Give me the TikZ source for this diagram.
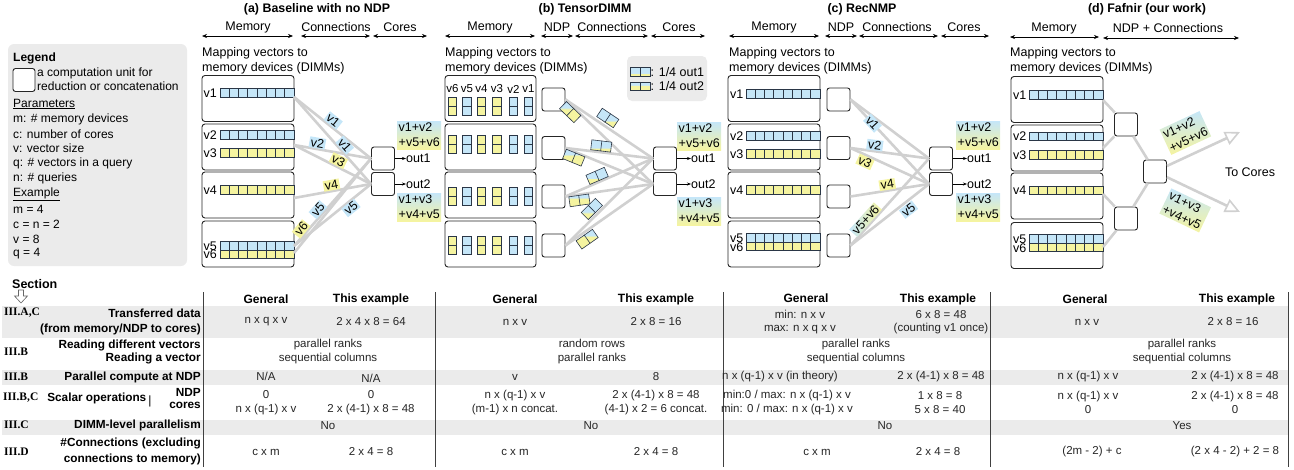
\documentclass[tikz,border=0pt]{standalone}
\usepackage{fontspec}
\setmainfont{Liberation Sans}
\newfontfamily\tnrfont{Liberation Serif}
\usetikzlibrary{arrows.meta,calc}
\definecolor{cblue}{HTML}{C5E6F8}
\definecolor{cyel}{HTML}{F5F4A0}
\definecolor{cline}{HTML}{D0D0D0}
\definecolor{cband}{HTML}{EBEBEB}
\definecolor{cedge}{HTML}{2A3646}
\pgfdeclareverticalshading{splitA}{100bp}{color(0bp)=(cyel); color(41bp)=(cyel); color(42bp)=(cblue); color(100bp)=(cblue)}
\pgfdeclareverticalshading{splitB}{100bp}{color(0bp)=(cyel); color(58bp)=(cyel); color(59bp)=(cblue); color(100bp)=(cblue)}
\newcommand{\vrow}[3]{\foreach \i in {0,...,7}{\draw[cellst, fill=#3] ({#1+\i*9.25},{#2-4.25}) rectangle ++(9.25,8.5);}}
\newcommand{\vpair}[3]{\draw[cellst, fill=#3] ({#1-4.25},{#2-9}) rectangle ++(8.5,9);\draw[cellst, fill=#3] ({#1-4.25},{#2}) rectangle ++(8.5,9);}
\tikzset{
  lbl/.style={inner sep=0pt, font=\fontsize{12.5}{15}\selectfont},
  ttl/.style={inner sep=0pt, font=\bfseries\fontsize{12.4}{15}\selectfont},
  lgd/.style={inner sep=0pt, anchor=west, font=\fontsize{12}{14}\selectfont},
  dimm/.style={draw=black!85, fill=white, rounded corners=3pt, line width=0.9pt, minimum width=92pt, minimum height=46pt, inner sep=0pt},
  unit/.style={draw=black!85, fill=white, rounded corners=2.5pt, line width=0.9pt, minimum width=23pt, minimum height=23pt, inner sep=0pt},
  cellst/.style={draw=cedge, line width=0.6pt},
  conn/.style={draw=cline, line width=2.6pt},
  span/.style={{Stealth[length=5pt,width=4pt]}-{Stealth[length=5pt,width=4pt]}, line width=0.6pt},
  outarr/.style={-{Stealth[length=4pt,width=3pt]}, line width=0.6pt},
  tagb/.style={fill=cblue, inner xsep=1.5pt, inner ysep=1pt, font=\fontsize{12.5}{14}\selectfont},
  tagy/.style={fill=cyel, inner xsep=1.5pt, inner ysep=1pt, font=\fontsize{12.5}{14}\selectfont},
  tagg/.style={left color=cblue, right color=cyel, inner xsep=1.5pt, inner ysep=1pt, font=\fontsize{12.5}{14}\selectfont},
  sumlbl/.style={top color=cblue, bottom color=cyel, inner xsep=1.5pt, inner ysep=2pt, align=left, font=\fontsize{12.5}{15}\selectfont},
  ptag/.style={draw=cedge, line width=0.6pt, minimum width=20pt, minimum height=10pt, inner sep=0pt, shade, shading=#1,
    append after command={(\tikzlastnode.north) edge[cellst] (\tikzlastnode.south)}},
  bigarr/.style={draw=cline, line width=2.6pt, -{Triangle[open, length=15pt, width=14pt, line width=1.6pt]}},
  hd/.style={inner sep=0pt, font=\bfseries\fontsize{12}{14}\selectfont},
  td/.style={inner sep=0pt, align=center, text=black!85, font=\fontsize{11.5}{13.5}\selectfont},
  rl/.style={inner sep=0pt, anchor=east, font=\bfseries\fontsize{11.8}{14}\selectfont},
  sec/.style={inner sep=0pt, anchor=west, font=\tnrfont\bfseries\fontsize{11.5}{13}\selectfont},
  vline/.style={draw=black!75, line width=0.8pt},
}
\begin{document}
\begin{tikzpicture}[x=1pt,y=-1pt]
\useasboundingbox (0,0) rectangle (1294,469);

%%%%%%%% Legend
\fill[cband, rounded corners=6pt] (8,44) rectangle (187,266);
\node[lgd, font=\bfseries\fontsize{12}{14}\selectfont] (lgT) at (13,58) {Legend};
\node[unit, minimum width=22pt, minimum height=23pt] (lgU) at (24,80) {};
\node[lgd, align=left] (lgU1) at (37,79) {a computation unit for\\reduction or concatenation};
\node[lgd] (lgP) at (13,104) {\underline{Parameters}};
\node[lgd] (lg1) at (13,119) {m: \# memory devices};
\node[lgd] (lg2) at (13,134) {c: number of cores};
\node[lgd] (lg3) at (13,148.5) {v: vector size};
\node[lgd] (lg4) at (13,163) {q: \# vectors in a query};
\node[lgd] (lg5) at (13,178) {n: \# queries};
\node[lgd] (lgE) at (13,194) {\underline{Example}};
\node[lgd] (lg6) at (13,209) {m = 4};
\node[lgd] (lg7) at (13,224) {c = n = 2};
\node[lgd] (lg8) at (13,239) {v = 8};
\node[lgd] (lg9) at (13,254) {q = 4};

%%%%%%%% Panel (a)
\node[ttl] (aT) at (317,9) {(a) Baseline with no NDP};
\node[lbl] (aH1) at (248,27.5) {Memory};
\node[lbl] (aH2) at (336,27.5) {Connections};
\node[lbl] (aH3) at (400,27.5) {Cores};
\draw[span] (202,36) -- (293,36);
\draw[span] (301,36) -- (370,36);
\draw[span] (373,36) -- (427,36);
\node[lbl, anchor=west, align=left] (aM) at (202,60.5) {Mapping vectors to\\memory devices (DIMMs)};
\node[dimm] (aD1) at (248,98.5) {};
\node[dimm] (aD2) at (248,147) {};
\node[dimm] (aD3) at (248,195) {};
\node[dimm] (aD4) at (248,244) {};
\vrow{220}{93}{cblue}
\vrow{220}{135}{cblue}
\vrow{220}{153}{cyel}
\vrow{220}{190}{cyel}
\vrow{220}{246}{cblue}
\vrow{220}{254.5}{cyel}
\node[lbl, anchor=west] (av1) at (203.5,93) {v1};
\node[lbl, anchor=west] (av2) at (203.5,135) {v2};
\node[lbl, anchor=west] (av3) at (203.5,153) {v3};
\node[lbl, anchor=west] (av4) at (203.5,190) {v4};
\node[lbl, anchor=west] (av5) at (203.5,246) {v5};
\node[lbl, anchor=west] (av6) at (203.5,254.5) {v6};
\node[unit] (ac1) at (383,158.5) {};
\node[unit] (ac2) at (383,184) {};
\coordinate (ap1) at (294,97);
\coordinate (ap2) at (294,145);
\coordinate (ap3) at (294,198);
\coordinate (ap4) at (294,246);
\coordinate (ap5) at (294,253);
\draw[conn] (ap1) -- (ac1.west);
\draw[conn] (ap1) -- (ac2.west);
\draw[conn] (ap2) -- (ac1.west);
\draw[conn] (ap2) -- (ac2.west);
\draw[conn] (ap3) -- (ac2.west);
\draw[conn] (ap4) -- (ac2.west);
\draw[conn] (ap4) -- (ac1.west);
\draw[conn] (ap5) -- (ac1.west);
\path (ap1) -- node[tagb, sloped, above=0.5pt, pos=.46] (atg1) {v1} (ac1.west);
\path (ap1) -- node[tagb, sloped, above=0.5pt, pos=.6] (atg2) {v1} (ac2.west);
\path (ap2) -- node[tagb, sloped, above=0.5pt, pos=.29] (atg3) {v2} (ac1.west);
\path (ap2) -- node[tagy, sloped, above=0.5pt, pos=.54] (atg4) {v3} (ac2.west);
\path (ap3) -- node[tagy, sloped, above=0.5pt, pos=.5] (atg5) {v4} (ac2.west);
\path (ap4) -- node[tagb, sloped, below=0.5pt, pos=.69] (atg6) {v5} (ac2.west);
\path (ap4) -- node[tagb, sloped, above=0.5pt, pos=.37] (atg7) {v5} (ac1.west);
\path (ap5) -- node[tagy, sloped, above=4pt, pos=.19] (atg8) {v6} (ac1.west);
\node[lbl, anchor=west] (ao1) at (406,158.5) {out1};
\node[lbl, anchor=west] (ao2) at (406,184) {out2};
\draw[outarr] (ac1.east) -- (ao1.west);
\draw[outarr] (ac2.east) -- (ao2.west);
\node[sumlbl, anchor=north west] (aS1) at (397,121) {v1+v2\\+v5+v6};
\node[sumlbl, anchor=north west] (aS2) at (397,193) {v1+v3\\+v4+v5};

%%%%%%%% Panel (b)
\node[ttl] (bT) at (585,9) {(b) TensorDIMM};
\node[lbl] (bH1) at (490,27.5) {Memory};
\node[lbl] (bH2) at (557,27.5) {NDP};
\node[lbl] (bH3) at (612,27.5) {Connections};
\node[lbl] (bH4) at (679,27.5) {Cores};
\draw[span] (445,36) -- (535,36);
\draw[span] (541,36) -- (573,36);
\draw[span] (575,36) -- (648,36);
\draw[span] (651,36) -- (705,36);
\node[lbl, anchor=west, align=left] (bM) at (445,60.5) {Mapping vectors to\\memory devices (DIMMs)};
\node[dimm, minimum width=91pt] (bD1) at (490.5,98.5) {};
\node[dimm, minimum width=91pt] (bD2) at (490.5,147) {};
\node[dimm, minimum width=91pt] (bD3) at (490.5,195) {};
\node[dimm, minimum width=91pt] (bD4) at (490.5,244) {};
\foreach \x/\c in {452.5/cyel,467/cblue,481.5/cyel,497/cyel,513.5/cblue,528.5/cblue}{\foreach \y in {106,144,196,245}{\vpair{\x}{\y}{\c}}}
\node[lbl, font=\fontsize{11.5}{13}\selectfont] (bl6) at (452.5,89) {v6};
\node[lbl, font=\fontsize{11.5}{13}\selectfont] (bl5) at (467,89) {v5};
\node[lbl, font=\fontsize{11.5}{13}\selectfont] (bl4) at (481.5,89) {v4};
\node[lbl, font=\fontsize{11.5}{13}\selectfont] (bl3) at (497,89) {v3};
\node[lbl, font=\fontsize{11.5}{13}\selectfont] (bl2) at (513.5,89) {v2};
\node[lbl, font=\fontsize{11.5}{13}\selectfont] (bl1) at (528.5,89) {v1};
\node[unit] (bN1) at (553.5,99.5) {};
\node[unit] (bN2) at (553.5,148) {};
\node[unit] (bN3) at (553.5,196.5) {};
\node[unit] (bN4) at (553.5,245.5) {};
\node[unit] (bC1) at (665,158.5) {};
\node[unit] (bC2) at (665,184) {};
\foreach \i in {1,...,4}{\foreach \j in {1,2}{\draw[conn] (bN\i.east) -- (bC\j.west);}}
\path (bN1.east) -- node[ptag=splitB, sloped, below=0.5pt, pos=.1] (btg1) {} (bC2.west);
\path (bN1.east) -- node[ptag=splitA, sloped, above=3pt, pos=.43] (btg2) {} (bC1.west);
\path (bN2.east) -- node[ptag=splitA, sloped, above=1pt, pos=.4] (btg3) {} (bC1.west);
\path (bN2.east) -- node[ptag=splitB, sloped, below=0.5pt, pos=.12] (btg4) {} (bC2.west);
\path (bN3.east) -- node[ptag=splitA, sloped, above=1pt, pos=.39] (btg5) {} (bC1.west);
\path (bN3.east) -- node[ptag=splitB, sloped, below=0.5pt, pos=.15] (btg6) {} (bC2.west);
\path (bN4.east) -- node[ptag=splitA, sloped, above=2pt, pos=.36] (btg7) {} (bC1.west);
\path (bN4.east) -- node[ptag=splitB, sloped, below=2pt, pos=.2] (btg8) {} (bC2.west);
\fill[cband, rounded corners=5pt] (627,56) rectangle (707,101);
\node[ptag=splitA, minimum width=20pt, minimum height=8.5pt] (bk1) at (640,72) {};
\node[ptag=splitB, minimum width=20pt, minimum height=8.5pt] (bk2) at (640,86.5) {};
\node[lbl, anchor=west] (bk1t) at (650.5,72) {: 1/4 out1};
\node[lbl, anchor=west] (bk2t) at (650.5,86.5) {: 1/4 out2};
\node[lbl, anchor=west] (bo1) at (691,158.5) {out1};
\node[lbl, anchor=west] (bo2) at (691,184) {out2};
\draw[outarr] (bC1.east) -- (bo1.west);
\draw[outarr] (bC2.east) -- (bo2.west);
\node[sumlbl, anchor=north west] (bS1) at (677,122) {v1+v2\\+v5+v6};
\node[sumlbl, anchor=north west] (bS2) at (677,197) {v1+v3\\+v4+v5};

%%%%%%%% Panel (c)
\node[ttl] (cT) at (862,9) {(c) RecNMP};
\node[lbl] (cH1) at (774,27.5) {Memory};
\node[lbl] (cH2) at (841,27.5) {NDP};
\node[lbl] (cH3) at (897,27.5) {Connections};
\node[lbl] (cH4) at (964,27.5) {Cores};
\draw[span] (729,36) -- (819,36);
\draw[span] (825,36) -- (857,36);
\draw[span] (859,36) -- (938,36);
\draw[span] (941,36) -- (989,36);
\node[lbl, anchor=west, align=left] (cM) at (729,60.5) {Mapping vectors to\\memory devices (DIMMs)};
\node[dimm] (cD1) at (774,98.5) {};
\node[dimm] (cD2) at (774,147) {};
\node[dimm] (cD3) at (774,195) {};
\node[dimm] (cD4) at (774,244) {};
\vrow{746}{94}{cblue}
\vrow{746}{136}{cblue}
\vrow{746}{154}{cyel}
\vrow{746}{190}{cyel}
\vrow{746}{238}{cblue}
\vrow{746}{246.5}{cyel}
\node[lbl, anchor=west] (cv1) at (730,94) {v1};
\node[lbl, anchor=west] (cv2) at (730,136) {v2};
\node[lbl, anchor=west] (cv3) at (730,154) {v3};
\node[lbl, anchor=west] (cv4) at (730,190) {v4};
\node[lbl, anchor=west] (cv5) at (730,238) {v5};
\node[lbl, anchor=west] (cv6) at (730,247) {v6};
\node[unit] (cN1) at (838.5,99.5) {};
\node[unit] (cN2) at (838.5,148) {};
\node[unit] (cN3) at (838.5,196.5) {};
\node[unit] (cN4) at (838.5,245.5) {};
\node[unit] (cC1) at (941,158.5) {};
\node[unit] (cC2) at (941,184) {};
\draw[conn] (cN1.east) -- (cC1.west);
\draw[conn] (cN1.east) -- (cC2.west);
\draw[conn] (cN2.east) -- (cC1.west);
\draw[conn] (cN2.east) -- (cC2.west);
\draw[conn] (cN3.east) -- (cC2.west);
\draw[conn] (cN4.east) -- (cC1.west);
\draw[conn] (cN4.east) -- (cC2.west);
\path (cN1.east) -- node[tagb, sloped, pos=.28] (ctg1) {v1} (cC2.west);
\path (cN2.east) -- node[tagb, sloped, above=0.5pt, pos=.3] (ctg2) {v2} (cC1.west);
\path (cN2.east) -- node[tagy, sloped, below=1pt, pos=.22] (ctg3) {v3} (cC2.west);
\path (cN3.east) -- node[tagy, sloped, above=0.5pt, pos=.48] (ctg4) {v4} (cC2.west);
\path (cN4.east) -- node[tagg, sloped, above=0.5pt, pos=.25] (ctg5) {v5+v6} (cC1.west);
\path (cN4.east) -- node[tagb, sloped, below=2pt, pos=.68] (ctg6) {v5} (cC2.west);
\node[lbl, anchor=west] (co1) at (967,158.5) {out1};
\node[lbl, anchor=west] (co2) at (967,184) {out2};
\draw[outarr] (cC1.east) -- (co1.west);
\draw[outarr] (cC2.east) -- (co2.west);
\node[sumlbl, anchor=north west] (cS1) at (956,121) {v1+v2\\+v5+v6};
\node[sumlbl, anchor=north west] (cS2) at (956,193) {v1+v3\\+v4+v5};

%%%%%%%% Panel (d)
\node[ttl] (dT) at (1147,9) {(d) Fafnir (our work)};
\node[lbl] (dH1) at (1054,28.5) {Memory};
\node[lbl] (dH2) at (1168,28.5) {NDP + Connections};
\draw[span] (1010,37) -- (1099,37);
\draw[span] (1103,38) -- (1239,38);
\node[lbl, anchor=west, align=left] (dM) at (1010,61) {Mapping vectors to\\memory devices (DIMMs)};
\node[dimm] (dD1) at (1057,99.5) {};
\node[dimm] (dD2) at (1057,148) {};
\node[dimm] (dD3) at (1057,196) {};
\node[dimm] (dD4) at (1057,245.5) {};
\vrow{1029}{95}{cblue}
\vrow{1029}{136.5}{cblue}
\vrow{1029}{155}{cyel}
\vrow{1029}{190.5}{cyel}
\vrow{1029}{239}{cblue}
\vrow{1029}{247.5}{cyel}
\node[lbl, anchor=west] (dv1) at (1013,95) {v1};
\node[lbl, anchor=west] (dv2) at (1013,136.5) {v2};
\node[lbl, anchor=west] (dv3) at (1013,155) {v3};
\node[lbl, anchor=west] (dv4) at (1013,190.5) {v4};
\node[lbl, anchor=west] (dv5) at (1013,239) {v5};
\node[lbl, anchor=west] (dv6) at (1013,248) {v6};
\node[unit] (dA) at (1126,124.5) {};
\node[unit] (dB) at (1155,171.5) {};
\node[unit] (dC) at (1126,218.5) {};
\coordinate (dp1) at (1103,100);
\coordinate (dp2) at (1103,148);
\coordinate (dp3) at (1103,194);
\coordinate (dp4) at (1103,247);
\coordinate (dt1) at (1240,132);
\coordinate (dt2) at (1240,212);
\draw[conn] (dp1) -- (dA);
\draw[conn] (dp2) -- (dA);
\draw[conn] (dp3) -- (dC);
\draw[conn] (dp4) -- (dC);
\draw[conn] (dA) -- (dB);
\draw[conn] (dC) -- (dB);
\draw[bigarr] (dB) -- (dt1);
\draw[bigarr] (dB) -- (dt2);
\path (dB) -- node[sumlbl, sloped, above=8pt, pos=.38] (dS1) {v1+v2\\+v5+v6} (dt1);
\path (dB) -- node[sumlbl, sloped, below=8pt, pos=.38] (dS2) {v1+v3\\+v4+v5} (dt2);
\node[lbl] (dTC) at (1250,172) {To Cores};

%%%%%%%% Table
\fill[cband] (2,306) rectangle (1288,338);
\fill[cband] (2,370) rectangle (1288,385);
\fill[cband] (2,420) rectangle (1288,435);
\draw[vline] (203,292) -- (203,467);
\draw[vline] (435,292) -- (435,467);
\draw[vline] (723,292) -- (723,467);
\draw[vline] (990,292) -- (990,467);
\draw[vline] (1288,292) -- (1288,467);
\node[inner sep=0pt, anchor=west, font=\bfseries\fontsize{12.5}{14}\selectfont] (tSec) at (12,284) {Section};
\draw[black!60, line width=0.6pt, fill=white] (18.5,290) -- (23.5,290) -- (23.5,296) -- (27.5,296) -- (21,303) -- (14.5,296) -- (18.5,296) -- cycle;
% row labels
\node[sec] (rs1) at (4,313) {III.A,C};
\node[rl] (rl1a) at (201,313) {Transferred data};
\node[rl] (rl1b) at (201,329) {(from memory/NDP to cores)};
\node[sec] (rs2) at (4,352) {III.B};
\node[rl] (rl2a) at (201,345) {Reading different vectors};
\node[rl] (rl2b) at (201,358) {Reading a vector};
\node[sec] (rs3) at (4,377) {III.B};
\node[rl] (rl3) at (201,377) {Parallel compute at NDP};
\node[sec] (rs4) at (3,398) {III.B,C};
\node[rl] (rl4) at (146.5,398) {Scalar operations};
\node[inner sep=0pt, font=\fontsize{12}{14}\selectfont] (rl4bar) at (150,401) {|};
\node[rl] (rl4a) at (201,392.5) {NDP};
\node[rl] (rl4b) at (201,405.5) {cores};
\node[sec] (rs5) at (4,425) {III.C};
\node[rl] (rl5) at (201,425) {DIMM-level parallelism};
\node[sec] (rs6) at (4,452) {III.D};
\node[rl] (rl6a) at (201,443) {\#Connections (excluding};
\node[rl] (rl6b) at (201,459) {connections to memory)};
% headers
\node[hd] (ha1) at (266,299) {General};
\node[hd] (ha2) at (371,299) {This example};
\node[hd] (hb1) at (515,299) {General};
\node[hd] (hb2) at (656,299) {This example};
\node[hd] (hc1) at (806,298) {General};
\node[hd] (hc2) at (938,299) {This example};
\node[hd] (hd1) at (1085,299) {General};
\node[hd] (hd2) at (1237,299) {This example};
% (a)
\node[td] (ta11) at (266,322) {n x q x v};
\node[td] (ta12) at (371,322) {2 x 4 x 8 = 64};
\node[td] (ta2) at (328,351.5) {parallel ranks\\sequential columns};
\node[td] (ta31) at (266,376.5) {N/A};
\node[td] (ta32) at (371,378) {N/A};
\node[td] (ta41) at (266,402.5) {0\\n x (q-1) x v};
\node[td] (ta42) at (371,402.5) {0\\2 x (4-1) x 8 = 48};
\node[td] (ta5) at (328,425.5) {No};
\node[td] (ta61) at (266,452) {c x m};
\node[td] (ta62) at (371,452) {2 x 4 = 8};
% (b)
\node[td] (tb11) at (515,322) {n x v};
\node[td] (tb12) at (656,322) {2 x 8 = 16};
\node[td] (tb2) at (592,351.5) {random rows\\parallel ranks};
\node[td] (tb31) at (515,377) {v};
\node[td] (tb32) at (656,377) {8};
\node[td] (tb41) at (515,402.5) {n x (q-1) x v\\(m-1) x n concat.};
\node[td] (tb42) at (656,402.5) {2 x (4-1) x 8 = 48\\(4-1) x 2 = 6 concat.};
\node[td] (tb5) at (591,425.5) {No};
\node[td] (tb61) at (515,452) {c x m};
\node[td] (tb62) at (656,452) {2 x 4 = 8};
% (c)
\node[td] (tc11) at (800,322) {min: n x v\\max: n x q x v};
\node[td] (tc12) at (941,322) {6 x 8 = 48\\(counting v1 once)};
\node[td] (tc2) at (856,351.5) {parallel ranks\\sequential columns};
\node[td] (tc31) at (780,377) {n x (q-1) x v (in theory)};
\node[td] (tc32) at (941,377) {2 x (4-1) x 8 = 48};
\node[td] (tc41) at (787,402.5) {min:0 / max: n x (q-1) x v\\min: 0 / max: n x (q-1) x v};
\node[td] (tc42) at (940,402.5) {1 x 8 = 8\\5 x 8 = 40};
\node[td] (tc5) at (885,425.5) {No};
\node[td] (tc61) at (817,452) {c x m};
\node[td] (tc62) at (938,452) {2 x 4 = 8};
% (d)
\node[td] (td11) at (1087,322) {n x v};
\node[td] (td12) at (1233,322) {2 x 8 = 16};
\node[td] (td2) at (1182,351.5) {parallel ranks\\sequential columns};
\node[td] (td31) at (1088,377) {n x (q-1) x v};
\node[td] (td32) at (1235,377) {2 x (4-1) x 8 = 48};
\node[td] (td41) at (1088,402.5) {n x (q-1) x v\\0};
\node[td] (td42) at (1235,402.5) {2 x (4-1) x 8 = 48\\0};
\node[td] (td5) at (1182,425.5) {Yes};
\node[td] (td61) at (1092,452) {(2m - 2) + c};
\node[td] (td62) at (1235,452) {(2 x 4 - 2) + 2 = 8};
\end{tikzpicture}
\end{document}
